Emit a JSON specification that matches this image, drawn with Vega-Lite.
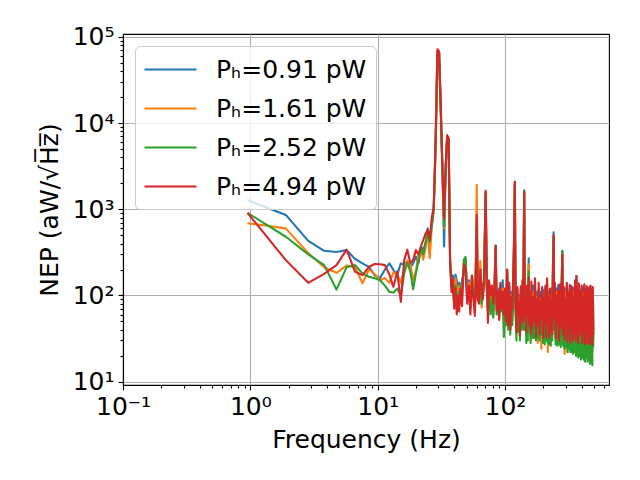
{
  "$schema": "https://vega.github.io/schema/vega-lite/v6.json",
  "width": 486,
  "height": 351,
  "autosize": {"type": "none"},
  "padding": {"left": 123, "top": 34, "right": 31, "bottom": 95},
  "background": "white",
  "config": {
    "font": "DejaVu Sans",
    "view": {"stroke": "black", "strokeWidth": 1.1},
    "axis": {
      "grid": true,
      "gridColor": "#b0b0b0",
      "gridWidth": 1.1,
      "domainColor": "black",
      "domainWidth": 1.1,
      "tickColor": "black",
      "tickWidth": 1.1,
      "labelColor": "black",
      "labelFont": "DejaVu Sans",
      "labelFontSize": 25,
      "titleFont": "DejaVu Sans",
      "titleFontSize": 25,
      "titleFontWeight": "normal",
      "titleColor": "black",
      "labelFlush": false,
      "labelOverlap": false
    },
    "legend": {
      "orient": "top-left",
      "offset": 12,
      "labelFont": "DejaVu Sans",
      "labelFontSize": 25,
      "labelColor": "black",
      "labelLimit": 300,
      "symbolType": "M-2,0H2",
      "symbolSize": 676,
      "symbolStrokeWidth": 2.1,
      "symbolOffset": 12,
      "labelOffset": 31,
      "rowPadding": 11,
      "padding": 9,
      "fillColor": "rgba(255,255,255,0.8)",
      "strokeColor": "#cccccc",
      "cornerRadius": 5
    }
  },
  "data": {
    "values": [
      {"f":0.95,"a":1280,"b":690,"c":910,"d":910},
      {"f":1.9,"a":860,"b":600,"c":480,"d":257},
      {"f":2.85,"a":430,"b":310,"c":300,"d":140},
      {"f":3.8,"a":330,"b":212,"c":225,"d":178},
      {"f":4.75,"a":320,"b":183,"c":117,"d":225},
      {"f":5.7,"a":336,"b":222,"c":212,"d":340},
      {"f":6.65,"a":265,"b":212,"c":225,"d":188},
      {"f":7.6,"a":236,"b":138,"c":180,"d":172},
      {"f":8.55,"a":215,"b":200,"c":165,"d":215},
      {"f":9.5,"a":170,"b":176,"c":158,"d":232},
      {"f":10.45,"a":160,"b":150,"c":150,"d":230},
      {"f":11.4,"a":200,"b":160,"c":130,"d":225},
      {"f":12.35,"a":236,"b":140,"c":110,"d":175},
      {"f":13.3,"a":197,"b":185,"c":108,"d":126},
      {"f":14.25,"a":173,"b":175,"c":120,"d":190},
      {"f":15.2,"a":236,"b":140,"c":100,"d":84},
      {"f":16.15,"a":225,"b":200,"c":180,"d":257},
      {"f":17.1,"a":250,"b":255,"c":240,"d":340},
      {"f":18.05,"a":210,"b":230,"c":190,"d":236},
      {"f":19,"a":236,"b":150,"c":118,"d":257},
      {"f":19.95,"a":282,"b":190,"c":180,"d":336},
      {"f":20.9,"a":236,"b":300,"c":250,"d":300},
      {"f":21.85,"a":368,"b":330,"c":350,"d":367},
      {"f":22.8,"a":336,"b":260,"c":300,"d":440},
      {"f":23.75,"a":403,"b":350,"c":400,"d":520},
      {"f":24.7,"a":600,"b":560,"c":550,"d":574},
      {"f":25.65,"a":480,"b":270,"c":420,"d":440},
      {"f":26.6,"a":650,"b":620,"c":650,"d":800},
      {"f":27.55,"a":1000,"b":950,"c":980,"d":1050},
      {"f":28.5,"a":5500,"b":5300,"c":5000,"d":5800},
      {"f":29.45,"a":68000,"b":68000,"c":55000,"d":72000},
      {"f":30.4,"a":66000,"b":65000,"c":52000,"d":68000},
      {"f":31.35,"a":14000,"b":14000,"c":12000,"d":15000},
      {"f":32.3,"a":2700,"b":2700,"c":2500,"d":2800},
      {"f":33.25,"a":370,"b":600,"c":630,"d":800},
      {"f":34.2,"a":3000,"b":3000,"c":3000,"d":3200},
      {"f":35.15,"a":7000,"b":7000,"c":6800,"d":7250},
      {"f":36.1,"a":6500,"b":6600,"c":6500,"d":6700},
      {"f":37.05,"a":260,"b":250,"c":240,"d":250},
      {"f":38,"a":150,"b":130,"c":140,"d":110},
      {"f":38.95,"a":170,"b":150,"c":110,"d":150},
      {"f":39.9,"a":130,"b":95,"c":85,"d":70},
      {"f":40.85,"a":175,"b":160,"c":130,"d":120},
      {"f":41.8,"a":150,"b":120,"c":100,"d":60},
      {"f":42.75,"a":120,"b":110,"c":95,"d":100},
      {"f":43.7,"a":140,"b":130,"c":110,"d":65},
      {"f":44.65,"a":110,"b":90,"c":80,"d":120},
      {"f":46,"a":150,"b":120,"c":100,"d":75},
      {"f":47.5,"a":190,"b":200,"c":260,"d":230},
      {"f":49,"a":260,"b":240,"c":280,"d":200},
      {"f":50.5,"a":120,"b":110,"c":90,"d":80},
      {"f":52,"a":150,"b":140,"c":110,"d":130},
      {"f":53.5,"a":90,"b":80,"c":70,"d":60},
      {"f":55,"a":165,"b":170,"c":120,"d":170},
      {"f":56.5,"a":120,"b":140,"c":100,"d":90},
      {"f":58,"a":140,"b":110,"c":90,"d":58},
      {"f":59,"a":200,"b":250,"c":180,"d":140},
      {"f":60,"a":700,"b":1920,"c":650,"d":860},
      {"f":61,"a":120,"b":200,"c":100,"d":90},
      {"f":62.5,"a":140,"b":130,"c":110,"d":80},
      {"f":64,"a":200,"b":250,"c":150,"d":200},
      {"f":65.5,"a":90,"b":72,"c":80,"d":120},
      {"f":67,"a":130,"b":110,"c":100,"d":90},
      {"f":68.5,"a":150,"b":150,"c":130,"d":160},
      {"f":70.5,"a":1500,"b":1550,"c":1600,"d":1640},
      {"f":72,"a":140,"b":120,"c":110,"d":130},
      {"f":73.5,"a":90,"b":70,"c":65,"d":48},
      {"f":75,"a":130,"b":140,"c":120,"d":150},
      {"f":77,"a":80,"b":70,"c":60,"d":100},
      {"f":79,"a":120,"b":110,"c":90,"d":130},
      {"f":81,"a":70,"b":60,"c":55,"d":80},
      {"f":83,"a":160,"b":150,"c":140,"d":130},
      {"f":84.5,"a":380,"b":360,"c":380,"d":374},
      {"f":86,"a":80,"b":75,"c":60,"d":67},
      {"f":88,"a":120,"b":100,"c":90,"d":110},
      {"f":90,"a":70,"b":60,"c":55,"d":52},
      {"f":92,"a":130,"b":120,"c":100,"d":140},
      {"f":94,"a":100,"b":90,"c":65,"d":70},
      {"f":96,"a":150,"b":120,"c":90,"d":110},
      {"f":98,"a":60,"b":50,"c":33,"d":60},
      {"f":100,"a":120,"b":100,"c":80,"d":120},
      {"f":102,"a":80,"b":60,"c":45,"d":50},
      {"f":104,"a":190,"b":200,"c":200,"d":197},
      {"f":106,"a":60,"b":55,"c":40,"d":45},
      {"f":108,"a":130,"b":110,"c":100,"d":140},
      {"f":110,"a":50,"b":45,"c":35,"d":40},
      {"f":112,"a":110,"b":100,"c":90,"d":95},
      {"f":114,"a":60,"b":50,"c":45,"d":70},
      {"f":116,"a":100,"b":90,"c":80,"d":160},
      {"f":118,"a":500,"b":480,"c":450,"d":520},
      {"f":119.5,"a":2050,"b":2000,"c":1900,"d":2100},
      {"f":121,"a":90,"b":80,"c":70,"d":80},
      {"f":123,"a":45,"b":40,"c":30,"d":38},
      {"f":125,"a":120,"b":110,"c":100,"d":125},
      {"f":127,"a":50,"b":45,"c":38,"d":60},
      {"f":129,"a":100,"b":90,"c":80,"d":85},
      {"f":131,"a":45,"b":40,"c":30,"d":34},
      {"f":133,"a":120,"b":100,"c":90,"d":128},
      {"f":135,"a":55,"b":50,"c":40,"d":48},
      {"f":137,"a":110,"b":100,"c":95,"d":150},
      {"f":139,"a":60,"b":50,"c":40,"d":50},
      {"f":141.5,"a":1640,"b":1600,"c":1660,"d":1600},
      {"f":143,"a":60,"b":50,"c":40,"d":55},
      {"f":145,"a":120,"b":100,"c":95,"d":90},
      {"f":147,"a":40,"b":35,"c":28,"d":38},
      {"f":149,"a":100,"b":90,"c":70,"d":130},
      {"f":151,"a":45,"b":40,"c":30,"d":60},
      {"f":153.5,"a":269,"b":230,"c":190,"d":160},
      {"f":155,"a":60,"b":50,"c":40,"d":45},
      {"f":157,"a":110,"b":100,"c":90,"d":100},
      {"f":159,"a":40,"b":30,"c":28,"d":36},
      {"f":161,"a":105,"b":95,"c":85,"d":145},
      {"f":163,"a":50,"b":40,"c":32,"d":42},
      {"f":166,"a":130,"b":110,"c":95,"d":95},
      {"f":169,"a":45,"b":40,"c":32,"d":50},
      {"f":172,"a":140,"b":130,"c":100,"d":158},
      {"f":175,"a":50,"b":40,"c":30,"d":33},
      {"f":178,"a":110,"b":95,"c":80,"d":90},
      {"f":181,"a":45,"b":28,"c":32,"d":45},
      {"f":184,"a":120,"b":110,"c":90,"d":140},
      {"f":187,"a":40,"b":35,"c":30,"d":36},
      {"f":190,"a":110,"b":90,"c":80,"d":85},
      {"f":193,"a":50,"b":24,"c":35,"d":55},
      {"f":196,"a":120,"b":110,"c":90,"d":125},
      {"f":199,"a":40,"b":35,"c":28,"d":32},
      {"f":202,"a":115,"b":100,"c":85,"d":100},
      {"f":205,"a":38,"b":30,"c":27,"d":45},
      {"f":208,"a":125,"b":110,"c":95,"d":130},
      {"f":211,"a":42,"b":35,"c":30,"d":33},
      {"f":214,"a":150,"b":140,"c":120,"d":158},
      {"f":217,"a":40,"b":22,"c":28,"d":50},
      {"f":220,"a":110,"b":100,"c":85,"d":95},
      {"f":223,"a":45,"b":35,"c":27,"d":32},
      {"f":226,"a":100,"b":90,"c":80,"d":120},
      {"f":229,"a":38,"b":30,"c":26,"d":40},
      {"f":232,"a":120,"b":100,"c":90,"d":88},
      {"f":235,"a":45,"b":35,"c":30,"d":36},
      {"f":238,"a":200,"b":180,"c":170,"d":200},
      {"f":241,"a":540,"b":500,"c":480,"d":500},
      {"f":244,"a":60,"b":50,"c":40,"d":55},
      {"f":247,"a":110,"b":100,"c":85,"d":140},
      {"f":250,"a":40,"b":30,"c":27,"d":32},
      {"f":254,"a":120,"b":110,"c":90,"d":100},
      {"f":258,"a":38,"b":30,"c":26,"d":48},
      {"f":262,"a":132,"b":110,"c":100,"d":115},
      {"f":266,"a":40,"b":32,"c":27,"d":30},
      {"f":270,"a":100,"b":90,"c":80,"d":135},
      {"f":274,"a":36,"b":28,"c":25,"d":42},
      {"f":278,"a":120,"b":100,"c":90,"d":95},
      {"f":282,"a":330,"b":310,"c":320,"d":298},
      {"f":286,"a":40,"b":30,"c":26,"d":35},
      {"f":290,"a":110,"b":100,"c":85,"d":125},
      {"f":294,"a":35,"b":21,"c":24,"d":31},
      {"f":298,"a":120,"b":110,"c":90,"d":90},
      {"f":302,"a":38,"b":28,"c":25,"d":45},
      {"f":306,"a":130,"b":120,"c":95,"d":140},
      {"f":310,"a":34,"b":22,"c":22,"d":29},
      {"f":314,"a":110,"b":100,"c":85,"d":105},
      {"f":318,"a":36,"b":30,"c":24,"d":38},
      {"f":322,"a":120,"b":110,"c":90,"d":132},
      {"f":326,"a":34,"b":28,"c":22,"d":28},
      {"f":330,"a":130,"b":115,"c":95,"d":110},
      {"f":334,"a":36,"b":30,"c":22,"d":44},
      {"f":338,"a":115,"b":100,"c":85,"d":125},
      {"f":342,"a":34,"b":26,"c":21,"d":30},
      {"f":346,"a":120,"b":110,"c":90,"d":95},
      {"f":350,"a":36,"b":28,"c":22,"d":36},
      {"f":355,"a":150,"b":130,"c":110,"d":145},
      {"f":360,"a":34,"b":26,"c":20,"d":30},
      {"f":364,"a":168,"b":150,"c":130,"d":168},
      {"f":368,"a":35,"b":28,"c":20,"d":42},
      {"f":372,"a":120,"b":110,"c":90,"d":100},
      {"f":376,"a":33,"b":25,"c":19,"d":28},
      {"f":380,"a":130,"b":115,"c":95,"d":138},
      {"f":385,"a":34,"b":27,"c":20,"d":34},
      {"f":390,"a":115,"b":100,"c":85,"d":110},
      {"f":395,"a":32,"b":26,"c":18,"d":40},
      {"f":400,"a":125,"b":110,"c":90,"d":130},
      {"f":405,"a":33,"b":25,"c":19,"d":28},
      {"f":410,"a":120,"b":105,"c":85,"d":92},
      {"f":415,"a":32,"b":24,"c":18,"d":36},
      {"f":420,"a":130,"b":110,"c":90,"d":135},
      {"f":425,"a":31,"b":25,"c":17,"d":27},
      {"f":430,"a":115,"b":100,"c":85,"d":118},
      {"f":435,"a":33,"b":24,"c":19,"d":45},
      {"f":440,"a":125,"b":110,"c":90,"d":128},
      {"f":445,"a":31,"b":23,"c":17,"d":28},
      {"f":450,"a":120,"b":105,"c":85,"d":100},
      {"f":455,"a":32,"b":24,"c":18,"d":34},
      {"f":460,"a":115,"b":100,"c":80,"d":125},
      {"f":465,"a":30,"b":22,"c":16,"d":27},
      {"f":470,"a":120,"b":110,"c":85,"d":130},
      {"f":475,"a":31,"b":24,"c":17,"d":40},
      {"f":480,"a":110,"b":100,"c":80,"d":108},
      {"f":485,"a":30,"b":22,"c":15.5,"d":27},
      {"f":490,"a":120,"b":105,"c":85,"d":125},
      {"f":494,"a":40,"b":30,"c":25,"d":35}
    ]
  },
  "transform": [{"fold": ["a", "b", "c", "d"], "as": ["key", "value"]}],
  "encoding": {
    "x": {
      "field": "f",
      "type": "quantitative",
      "title": "Frequency (Hz)",
      "scale": {"type": "log", "domain": [0.1, 656], "nice": false},
      "axis": {
        "values": [0.1,0.2,0.3,0.4,0.5,0.6,0.7,0.8,0.9,1,2,3,4,5,6,7,8,9,10,20,30,40,50,60,70,80,90,100,200,300,400,500,600],
        "labelExpr": "abs(log(datum.value)/LN10 - round(log(datum.value)/LN10)) < 0.01 ? '10' + (round(log(datum.value)/LN10) < 0 ? '⁻' : '') + substring('⁰¹²³⁴⁵⁶⁷⁸⁹', abs(round(log(datum.value)/LN10)), abs(round(log(datum.value)/LN10)) + 1) : ''",
        "gridOpacity": {"condition": {"test": "abs(log(datum.value)/LN10 - round(log(datum.value)/LN10)) < 0.01", "value": 1}, "value": 0},
        "tickSize": {"condition": {"test": "abs(log(datum.value)/LN10 - round(log(datum.value)/LN10)) < 0.01", "value": 5}, "value": 3},
        "labelPadding": 4,
        "titlePadding": 8
      }
    },
    "y": {
      "field": "value",
      "type": "quantitative",
      "title": "NEP (aW/√H̅z̅)",
      "scale": {"type": "log", "domain": [9.13, 108300], "nice": false},
      "axis": {
        "values": [10,20,30,40,50,60,70,80,90,100,200,300,400,500,600,700,800,900,1000,2000,3000,4000,5000,6000,7000,8000,9000,10000,20000,30000,40000,50000,60000,70000,80000,90000,100000],
        "labelExpr": "abs(log(datum.value)/LN10 - round(log(datum.value)/LN10)) < 0.01 ? '10' + substring('⁰¹²³⁴⁵⁶⁷⁸⁹', round(log(datum.value)/LN10), round(log(datum.value)/LN10) + 1) : ''",
        "gridOpacity": {"condition": {"test": "abs(log(datum.value)/LN10 - round(log(datum.value)/LN10)) < 0.01", "value": 1}, "value": 0},
        "tickSize": {"condition": {"test": "abs(log(datum.value)/LN10 - round(log(datum.value)/LN10)) < 0.01", "value": 5}, "value": 3},
        "labelPadding": 4,
        "titlePadding": 10
      }
    },
    "color": {
      "field": "key",
      "type": "nominal",
      "scale": {"domain": ["a", "b", "c", "d"], "range": ["#1f77b4", "#ff7f0e", "#2ca02c", "#d62728"]},
      "legend": {
        "title": null,
        "labelExpr": "datum.label == 'a' ? 'Pₕ=0.91 pW' : datum.label == 'b' ? 'Pₕ=1.61 pW' : datum.label == 'c' ? 'Pₕ=2.52 pW' : 'Pₕ=4.94 pW'"
      }
    }
  },
  "layer": [
    {"transform": [{"filter": "datum.key == 'a'"}], "mark": {"type": "line", "strokeWidth": 2.1, "strokeJoin": "round", "clip": true}},
    {"transform": [{"filter": "datum.key == 'b'"}], "mark": {"type": "line", "strokeWidth": 2.1, "strokeJoin": "round", "clip": true}},
    {"transform": [{"filter": "datum.key == 'c'"}], "mark": {"type": "line", "strokeWidth": 2.1, "strokeJoin": "round", "clip": true}},
    {"transform": [{"filter": "datum.key == 'd'"}], "mark": {"type": "line", "strokeWidth": 2.1, "strokeJoin": "round", "clip": true}}
  ]
}
